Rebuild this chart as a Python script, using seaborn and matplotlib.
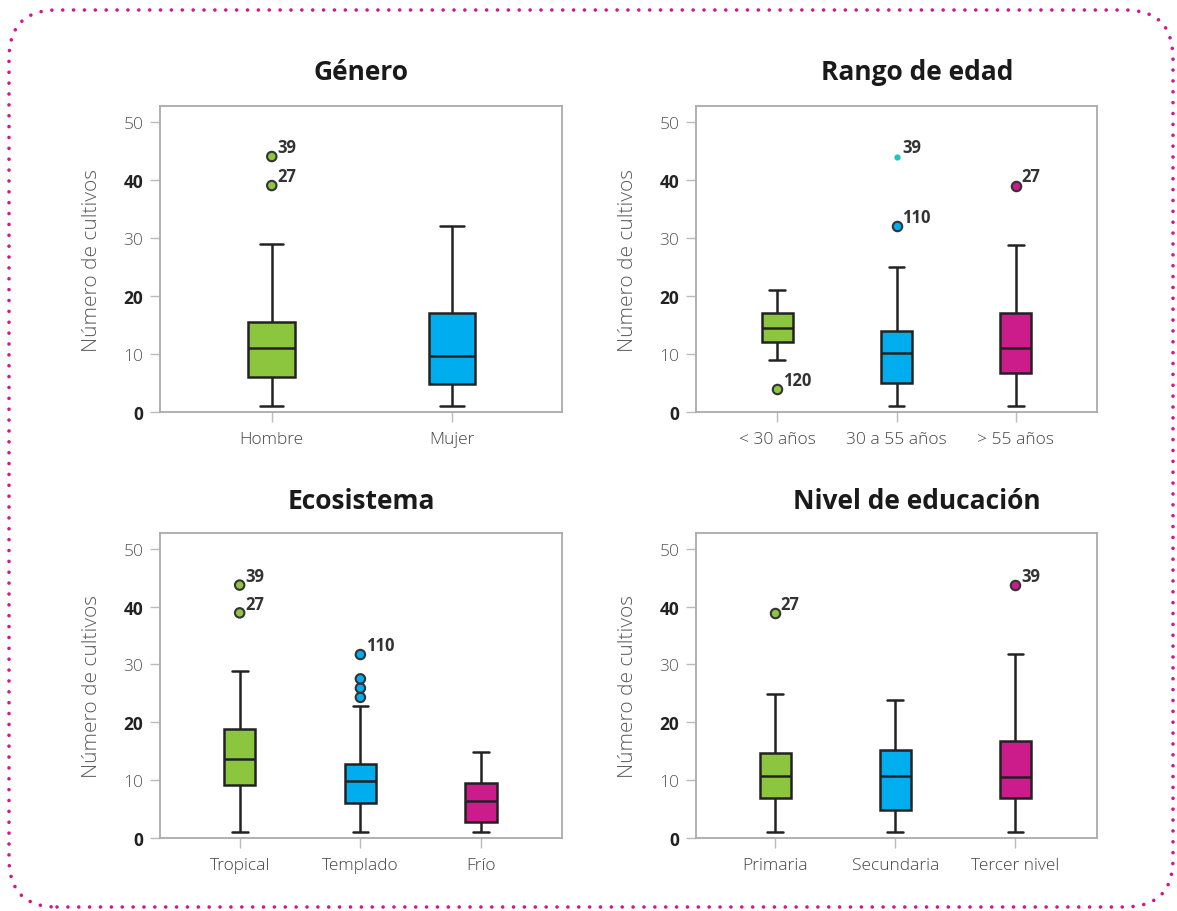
import numpy as np
import pandas as pd
import matplotlib
matplotlib.use("Agg")
import matplotlib.pyplot as plt
import seaborn as sns
from matplotlib.patches import FancyBboxPatch
from matplotlib.transforms import IdentityTransform

sns.set_style("white")
plt.rcParams['font.family'] = ['Open Sans', 'DejaVu Sans']

# ---------------- data ----------------
genero_cats = ["Hombre", "Mujer"]
genero_wlo = [1, 1]
genero_q1 = [6, 4.8]
genero_med = [11, 9.7]
genero_q3 = [15.5, 17]
genero_whi = [29, 32]
genero_out_cat = ["Hombre", "Hombre"]
genero_out_val = [39, 44]
genero_out_lab = ["27", "39"]
genero_out_ext = [False, False]

edad_cats = ["< 30 años", "30 a 55 años", "> 55 años"]
edad_wlo = [9, 1, 1]
edad_q1 = [12, 5, 6.7]
edad_med = [14.4, 10.1, 11]
edad_q3 = [17, 14, 17]
edad_whi = [21, 25, 28.8]
edad_out_cat = ["< 30 años", "30 a 55 años", "30 a 55 años", "> 55 años"]
edad_out_val = [4, 32, 44, 39]
edad_out_lab = ["120", "110", "39", "27"]
edad_out_ext = [False, False, True, False]

eco_cats = ["Tropical", "Templado", "Frío"]
eco_wlo = [1, 1, 1]
eco_q1 = [9.2, 6, 2.8]
eco_med = [13.7, 9.9, 6.4]
eco_q3 = [18.9, 12.8, 9.5]
eco_whi = [28.8, 22.8, 14.8]
eco_out_cat = ["Tropical", "Tropical", "Templado", "Templado", "Templado", "Templado"]
eco_out_val = [38.9, 43.7, 24.3, 25.9, 27.5, 31.7]
eco_out_lab = ["27", "39", "", "", "", "110"]
eco_out_ext = [False, False, False, False, False, False]

edu_cats = ["Primaria", "Secundaria", "Tercer nivel"]
edu_wlo = [1, 1, 1]
edu_q1 = [6.9, 4.8, 6.9]
edu_med = [10.7, 10.7, 10.6]
edu_q3 = [14.7, 15.2, 16.8]
edu_whi = [24.8, 23.9, 31.8]
edu_out_cat = ["Primaria", "Tercer nivel"]
edu_out_val = [38.8, 43.7]
edu_out_lab = ["27", "39"]
edu_out_ext = [False, False]

titles = ["Género", "Rango de edad", "Ecosistema", "Nivel de educación"]
yticks = [0, 10, 20, 30, 40, 50]

COLORS = ["#8CC63F", "#00AEEF", "#CC1B8B"]
EXTREME = "#1CC4C4"
DARK = "#222222"

fig = plt.figure(figsize=(11.77, 9.12), dpi=100)
W, H = 1177, 912


def add_ax(x0, y0, x1, y1):
    return fig.add_axes([x0 / W, 1 - y1 / H, (x1 - x0) / W, (y1 - y0) / H])


def draw(ax, cats, wlo, q1, med, q3, whi, oc, ov, ol, oe, xlim):
    rows = []
    for c, a, b, m, d, e in zip(cats, wlo, q1, med, q3, whi):
        for v in (a, b, m, d, e):
            rows.append((c, v))
    df = pd.DataFrame(rows, columns=["cat", "val"])
    pal = dict(zip(cats, COLORS[:len(cats)]))
    sns.boxplot(data=df, x="cat", y="val", hue="cat", order=cats, hue_order=cats,
                palette=pal, whis=np.inf, width=0.26, saturation=1, linewidth=1.8,
                linecolor=DARK, legend=False, dodge=False, ax=ax)
    dfo = pd.DataFrame({"cat": oc, "val": ov, "lab": ol, "ext": oe})
    norm = dfo[~dfo["ext"]]
    ext = dfo[dfo["ext"]]
    if len(norm):
        sns.stripplot(data=norm, x="cat", y="val", hue="cat", order=cats, hue_order=cats,
                      palette=pal, jitter=False, size=6.8, linewidth=1.5,
                      edgecolor="#333333", legend=False, dodge=False, ax=ax, zorder=4)
    if len(ext):
        sns.stripplot(data=ext, x="cat", y="val", order=cats, color=EXTREME,
                      jitter=False, size=4.5, linewidth=0, legend=False, ax=ax, zorder=4)
    for c, v, lab in zip(oc, ov, ol):
        if lab:
            ax.annotate(lab, (cats.index(c), v), xytext=(4, 3), textcoords="offset points",
                        ha="left", va="baseline", fontsize=12, fontweight="bold",
                        color="#333333")
    ax.set_xlim(*xlim)
    ax.set_ylim(0, 52.7)
    ax.set_yticks(yticks)
    ax.set_yticklabels([str(t) for t in yticks])
    for t, lab in zip(yticks, ax.get_yticklabels()):
        if t % 20 == 0:
            lab.set_fontweight("bold")
            lab.set_color("#222222")
        else:
            lab.set_fontweight("light")
            lab.set_color("#555555")
        lab.set_fontsize(12.5)
    for lab in ax.get_xticklabels():
        lab.set_fontsize(12.5)
        lab.set_color("#444444")
        lab.set_fontweight("light")
    ax.tick_params(axis="both", direction="out", length=7, width=1, color="#bbbbbb",
                   bottom=True, left=True)
    ax.tick_params(axis="y", pad=5)
    ax.tick_params(axis="x", pad=7)
    ax.set_xlabel("")
    ax.set_ylabel("Número de cultivos", fontsize=15, color="#5a5a5a", fontweight="light")
    ax.yaxis.set_label_coords(-0.145, 0.5)
    for s in ax.spines.values():
        s.set_color("#aaaaaa")
        s.set_linewidth(1.3)


ax1 = add_ax(160, 107, 562, 413)
draw(ax1, genero_cats, genero_wlo, genero_q1, genero_med, genero_q3, genero_whi,
     genero_out_cat, genero_out_val, genero_out_lab, genero_out_ext, (-0.62, 1.61))
ax2 = add_ax(696, 107, 1097, 413)
draw(ax2, edad_cats, edad_wlo, edad_q1, edad_med, edad_q3, edad_whi,
     edad_out_cat, edad_out_val, edad_out_lab, edad_out_ext, (-0.68, 2.68))
ax3 = add_ax(160, 534, 562, 839)
draw(ax3, eco_cats, eco_wlo, eco_q1, eco_med, eco_q3, eco_whi,
     eco_out_cat, eco_out_val, eco_out_lab, eco_out_ext, (-0.66, 2.67))
ax4 = add_ax(696, 534, 1097, 839)
draw(ax4, edu_cats, edu_wlo, edu_q1, edu_med, edu_q3, edu_whi,
     edu_out_cat, edu_out_val, edu_out_lab, edu_out_ext, (-0.66, 2.68))

title_pos = [(361, 73), (917, 73), (361, 502), (917, 502)]
for t, (x, y) in zip(titles, title_pos):
    fig.text(x / W, 1 - y / H, t, ha="center", va="center", fontsize=19,
             fontweight="bold", color="#1a1a1a")

border = FancyBboxPatch((9, 4), 1164, 897, boxstyle="round,pad=0,rounding_size=48",
                        transform=IdentityTransform(), fill=False, edgecolor="#D4168E",
                        linewidth=2.6, linestyle=(0, (0.01, 3.0)), capstyle="round")
fig.patches.append(border)

fig.savefig("out.png", dpi=100)
